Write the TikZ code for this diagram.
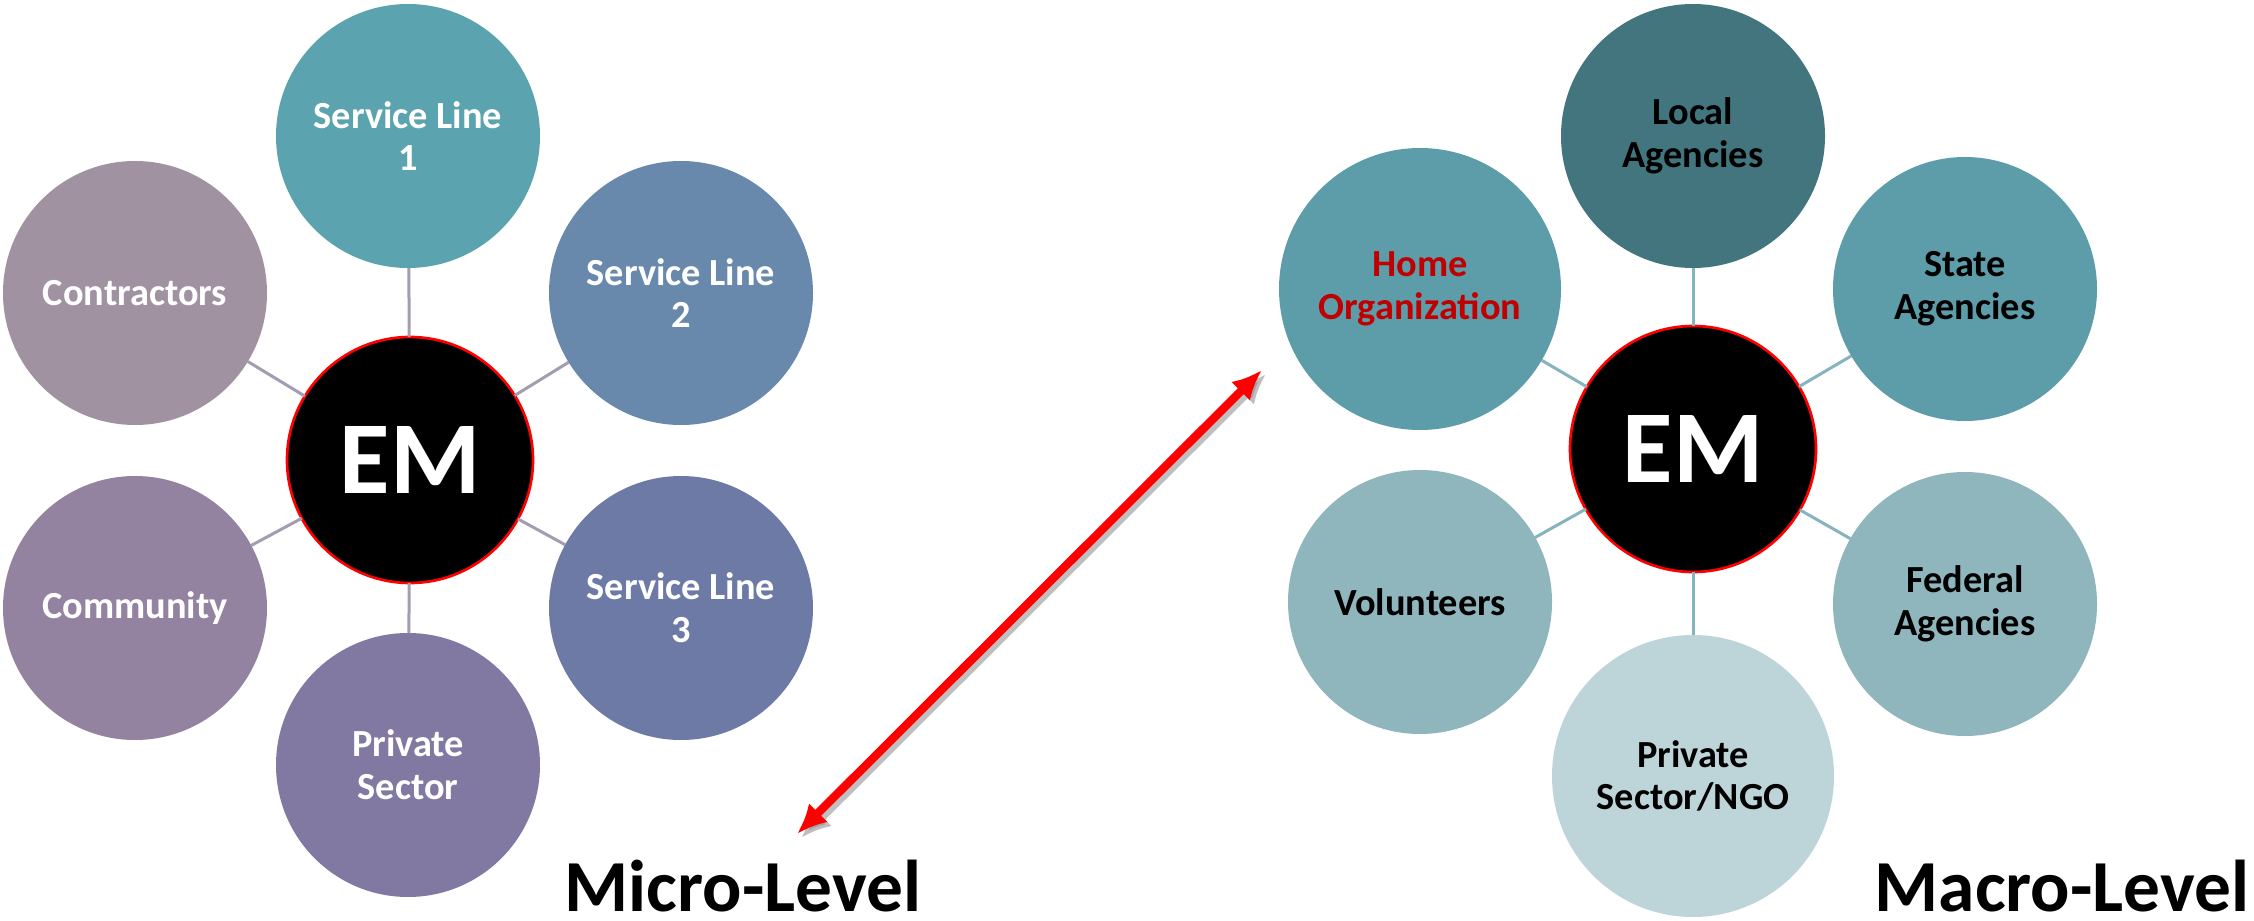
\documentclass[tikz,border=0pt]{standalone}
\usepackage{fontspec}
\setmainfont{Carlito}
\usetikzlibrary{arrows.meta}
\definecolor{slone}{HTML}{5BA3AE}
\definecolor{sltwo}{HTML}{6889AB}
\definecolor{slthree}{HTML}{6E7AA6}
\definecolor{privsec}{HTML}{8179A2}
\definecolor{commun}{HTML}{9383A0}
\definecolor{contr}{HTML}{A192A2}
\definecolor{localag}{HTML}{42757E}
\definecolor{homeorg}{HTML}{5C9DA9}
\definecolor{stateag}{HTML}{5C9DA9}
\definecolor{volun}{HTML}{8FB5BD}
\definecolor{fedag}{HTML}{8FB5BD}
\definecolor{ngo}{HTML}{BDD4D9}
\definecolor{emred}{HTML}{FF0000}
\definecolor{homered}{HTML}{C00000}
\definecolor{lineL}{HTML}{A49CB0}
\definecolor{lineR}{HTML}{86B4BE}
\definecolor{arrowred}{HTML}{FF0000}
\begin{document}
\begin{tikzpicture}[x=0.3pt,y=-0.3pt,
  >={Latex[length=9pt,width=8pt]},
  bub/.style={circle, minimum size=79.2pt, inner sep=0pt, outer sep=0pt, align=center,
    font=\bfseries\fontsize{11.5}{12.8}\selectfont, text=white},
  bigbub/.style={bub, minimum size=84.6pt},
  hub/.style={circle, fill=black, draw=emred, line width=0.8pt, minimum size=73.8pt,
    inner sep=0pt, outer sep=0pt, text=white, font=\bfseries\fontsize{31}{32}\selectfont},
  linkL/.style={draw=lineL, line width=0.9pt},
  linkR/.style={draw=lineR, line width=0.9pt},
  level/.style={font=\bfseries\fontsize{22}{24}\selectfont, anchor=base, inner sep=0pt},
  dark/.style={text=black}]
\useasboundingbox (0,0) rectangle (2254,921);
\fill[white] (0,0) rectangle (2254,921);

% ---------- left (micro) ----------
\node[hub] (emL) at (410,460) {EM};
\node[bub, fill=slone]   (sl1)  at (408,136) {Service Line\\1};
\node[bub, fill=sltwo]   (sl2)  at (681,293) {Service Line\\2};
\node[bub, fill=slthree] (sl3)  at (681,608) {Service Line\\3};
\node[bub, fill=privsec] (ps)   at (408,765) {Private\\Sector};
\node[bub, fill=commun]  (com)  at (135,608) {Community};
\node[bub, fill=contr]   (con)  at (135,293) {Contractors};
\foreach \n in {sl1,sl2,sl3,ps,com,con} \draw[linkL] (emL) -- (\n);

% ---------- right (macro) ----------
\node[hub] (emR) at (1693,449) {EM};
\node[bub, dark, fill=localag]    (loc)  at (1693,136) {Local\\Agencies};
\node[bub, dark, fill=stateag]    (sta)  at (1965,289) {State\\Agencies};
\node[bub, dark, fill=fedag]      (fed)  at (1965,604) {Federal\\Agencies};
\node[bigbub, dark, fill=ngo]     (ngo)  at (1693,776) {Private\\Sector/NGO};
\node[bub, dark, fill=volun]      (vol)  at (1420,602) {Volunteers};
\node[bigbub, text=homered, fill=homeorg] (home) at (1420,289) {Home\\Organization};
\foreach \n in {loc,sta,fed,ngo,vol,home} \draw[linkR] (emR) -- (\n);

% ---------- level labels ----------
\node[level] (micro) at (743,911) {Micro-Level};
\node[level] (macro) at (2062,911) {Macro-Level};

% ---------- double arrow ----------
\coordinate (arA) at (797,834);
\coordinate (arB) at (1262,370);
\draw[black!45, opacity=0.55, line width=2.5pt, <->] ([shift={(4,4)}]arA) -- ([shift={(4,4)}]arB);
\draw[arrowred, line width=2.5pt, <->] (arA) -- (arB);
\end{tikzpicture}
\end{document}
